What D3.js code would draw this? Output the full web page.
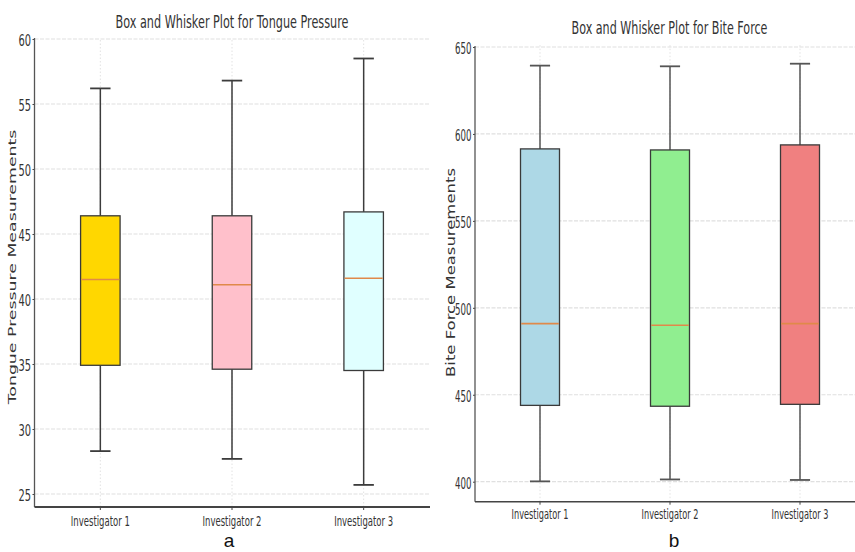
<!DOCTYPE html>
<html>
<head>
<meta charset="utf-8">
<script src="https://cdn.jsdelivr.net/npm/d3@7/dist/d3.min.js"></script>
<style>
  html, body { margin: 0; padding: 0; background: #fff; }
  svg { display: block; }
</style>
</head>
<body>
<svg id="chart" width="855" height="552"></svg>
<script>
// ---------------- DATA ----------------
const categories = ["Investigator 1", "Investigator 2", "Investigator 3"];

const tongueWhiskerLow  = [28.3, 27.7, 25.7];
const tongueQ1          = [34.9, 34.6, 34.5];
const tongueMedian      = [41.5, 41.1, 41.6];
const tongueQ3          = [46.4, 46.4, 46.7];
const tongueWhiskerHigh = [56.2, 56.8, 58.5];
const tongueTicks       = [25, 30, 35, 40, 45, 50, 55, 60];
const tongueColors      = ["#FFD700", "#FFC0CB", "#E0FFFF"];

const biteWhiskerLow  = [400.2, 401.3, 401.0];
const biteQ1          = [443.9, 443.4, 444.5];
const biteMedian      = [490.9, 490.0, 490.9];
const biteQ3          = [591.4, 590.8, 593.7];
const biteWhiskerHigh = [639.3, 638.9, 640.4];
const biteTicks       = [400, 450, 500, 550, 600, 650];
const biteColors      = ["#ADD8E6", "#90EE90", "#F08080"];

const panelLabels = ["a", "b"];
const titles = ["Box and Whisker Plot for Tongue Pressure", "Box and Whisker Plot for Bite Force"];
const yTitles = ["Tongue Pressure Measurements", "Bite Force Measurements"];

// ---------------- DRAW ----------------
const svg = d3.select("#chart");
const FONT = "'DejaVu Sans', sans-serif";

// horizontally scale a text element (about its anchor point) to a target width
function fitWidth(node, target, ax, ay) {
  const w = node.getComputedTextLength();
  if (!w) return;
  const s = target / w;
  node.setAttribute("transform", `translate(${ax},${ay}) scale(${s},1) translate(${-ax},${-ay})`);
}

function buildRows(lo, q1, med, q3, hi, colors) {
  return categories.map((c, i) => ({ cat: c, lo: lo[i], q1: q1[i], med: med[i], q3: q3[i], hi: hi[i], color: colors[i] }));
}

function panel(cfg) {
  const g = svg.append("g");
  const x = d3.scaleBand().domain(categories).range(cfg.xRange).paddingInner(0).paddingOuter(0);
  const y = d3.scaleLinear().domain(cfg.yDomain).range(cfg.yRange);
  const bw = x.bandwidth();
  const cx = c => x(c) + bw / 2;
  const left = cfg.xRange[0];
  const right = cfg.plotRight;

  // horizontal grid
  g.append("g").selectAll("line").data(cfg.ticks).join("line")
    .attr("x1", left).attr("x2", right)
    .attr("y1", d => y(d)).attr("y2", d => y(d))
    .attr("stroke", "#e0e0e0").attr("stroke-width", 1.2)
    .attr("stroke-dasharray", "4,1.5");
  // vertical grid (dotted)
  g.append("g").selectAll("line").data(categories).join("line")
    .attr("x1", d => cx(d)).attr("x2", d => cx(d))
    .attr("y1", cfg.yRange[0]).attr("y2", cfg.yRange[1])
    .attr("stroke", "#e2e2e2").attr("stroke-width", 1)
    .attr("stroke-dasharray", "1.5,2");

  const rows = cfg.rows;
  const boxW = bw * 0.3, capW = bw * 0.155;
  const bx = g.append("g").selectAll("g").data(rows).join("g");
  // whiskers
  bx.append("line")
    .attr("x1", d => cx(d.cat)).attr("x2", d => cx(d.cat))
    .attr("y1", d => y(d.q3)).attr("y2", d => y(d.hi))
    .attr("stroke", cfg.whiskerColor).attr("stroke-width", 1.5);
  bx.append("line")
    .attr("x1", d => cx(d.cat)).attr("x2", d => cx(d.cat))
    .attr("y1", d => y(d.q1)).attr("y2", d => y(d.lo))
    .attr("stroke", cfg.whiskerColor).attr("stroke-width", 1.5);
  // caps
  bx.append("line")
    .attr("x1", d => cx(d.cat) - capW / 2).attr("x2", d => cx(d.cat) + capW / 2)
    .attr("y1", d => y(d.hi)).attr("y2", d => y(d.hi))
    .attr("stroke", cfg.whiskerColor).attr("stroke-width", 1.8);
  bx.append("line")
    .attr("x1", d => cx(d.cat) - capW / 2).attr("x2", d => cx(d.cat) + capW / 2)
    .attr("y1", d => y(d.lo)).attr("y2", d => y(d.lo))
    .attr("stroke", cfg.whiskerColor).attr("stroke-width", 1.8);
  // box
  bx.append("rect")
    .attr("x", d => cx(d.cat) - boxW / 2).attr("width", boxW)
    .attr("y", d => y(d.q3)).attr("height", d => y(d.q1) - y(d.q3))
    .attr("fill", d => d.color)
    .attr("stroke", "#3a3a3a").attr("stroke-width", 1.3);
  // median
  bx.append("line")
    .attr("x1", d => cx(d.cat) - boxW / 2 + 0.7).attr("x2", d => cx(d.cat) + boxW / 2 - 0.7)
    .attr("y1", d => y(d.med)).attr("y2", d => y(d.med))
    .attr("stroke", "#e0894a").attr("stroke-width", 1.6);

  // y axis
  const yAxis = d3.axisLeft(y).tickValues(cfg.ticks).tickSize(2).tickPadding(1.5).tickFormat(d3.format("d"));
  const ya = g.append("g").attr("transform", `translate(${left},0)`).call(yAxis);
  ya.select(".domain").remove();
  ya.selectAll(".tick line").attr("stroke", "#444");
  ya.selectAll(".tick text")
    .attr("font-family", FONT).attr("font-size", 15).attr("fill", "#333")
    .attr("dy", "0.45em")
    .each(function (d) { fitWidth(this, String(d).length * cfg.digitW, -3.5, 0); });
  g.append("line")
    .attr("x1", left).attr("x2", left)
    .attr("y1", cfg.yRange[0]).attr("y2", y(cfg.ticks[cfg.ticks.length - 1]) - 1)
    .attr("stroke", "#555").attr("stroke-width", 1.3);

  // x axis
  const xAxis = d3.axisBottom(x).tickSize(3).tickPadding(3);
  const xa = g.append("g").attr("transform", `translate(0,${cfg.yRange[0]})`).call(xAxis);
  xa.select(".domain").remove();
  xa.selectAll(".tick line").attr("stroke", "#444");
  xa.selectAll(".tick text")
    .attr("font-family", FONT).attr("font-size", 14.5).attr("fill", "#333")
    .attr("dy", cfg.xLabelDy)
    .each(function () { fitWidth(this, cfg.xLabelW, 0, 0); });
  g.append("line")
    .attr("x1", left).attr("x2", right)
    .attr("y1", cfg.yRange[0]).attr("y2", cfg.yRange[0])
    .attr("stroke", "#444").attr("stroke-width", cfg.bottomW);

  // title
  g.append("text")
    .attr("x", cfg.titleX).attr("y", cfg.titleY)
    .attr("text-anchor", "middle")
    .attr("font-family", FONT).attr("font-size", 18).attr("fill", "#333")
    .text(cfg.title)
    .each(function () { fitWidth(this, cfg.titleW, cfg.titleX, cfg.titleY); });
  // y title
  g.append("g")
    .attr("transform", `translate(${cfg.yTitleX},${cfg.yTitleY}) rotate(-90)`)
    .append("text")
    .attr("text-anchor", "middle")
    .attr("font-family", FONT).attr("font-size", cfg.yTitleSize).attr("fill", "#333")
    .text(cfg.yTitle)
    .each(function () { fitWidth(this, cfg.yTitleW, 0, 0); });
  // panel label
  g.append("text")
    .attr("x", cfg.labelX).attr("y", 547)
    .attr("text-anchor", "middle")
    .attr("font-family", "'Liberation Sans', Arial, sans-serif").attr("font-size", 19).attr("fill", "#111")
    .text(cfg.label);
}

panel({
  rows: buildRows(tongueWhiskerLow, tongueQ1, tongueMedian, tongueQ3, tongueWhiskerHigh, tongueColors),
  ticks: tongueTicks,
  xRange: [34.5, 429.5], plotRight: 430,
  yDomain: [24, 60], yRange: [507, 39],
  whiskerColor: "#3c3c3c", digitW: 6.3, xLabelW: 59, xLabelDy: "0.9em", bottomW: 2.2,
  title: titles[0], titleX: 232, titleY: 28, titleW: 233,
  yTitle: yTitles[0], yTitleX: 15.5, yTitleY: 267, yTitleSize: 11, yTitleW: 275,
  label: panelLabels[0], labelX: 229
});

panel({
  rows: buildRows(biteWhiskerLow, biteQ1, biteMedian, biteQ3, biteWhiskerHigh, biteColors),
  ticks: biteTicks,
  xRange: [475, 865], plotRight: 855,
  yDomain: [388.5, 651.5], yRange: [501.7, 44.4],
  whiskerColor: "#555", digitW: 5.5, xLabelW: 57, xLabelDy: "0.75em", bottomW: 1.6,
  title: titles[1], titleX: 669.5, titleY: 34, titleW: 196,
  yTitle: yTitles[1], yTitleX: 454.5, yTitleY: 272.5, yTitleSize: 12.5, yTitleW: 209,
  label: panelLabels[1], labelX: 674
});
</script>
</body>
</html>
